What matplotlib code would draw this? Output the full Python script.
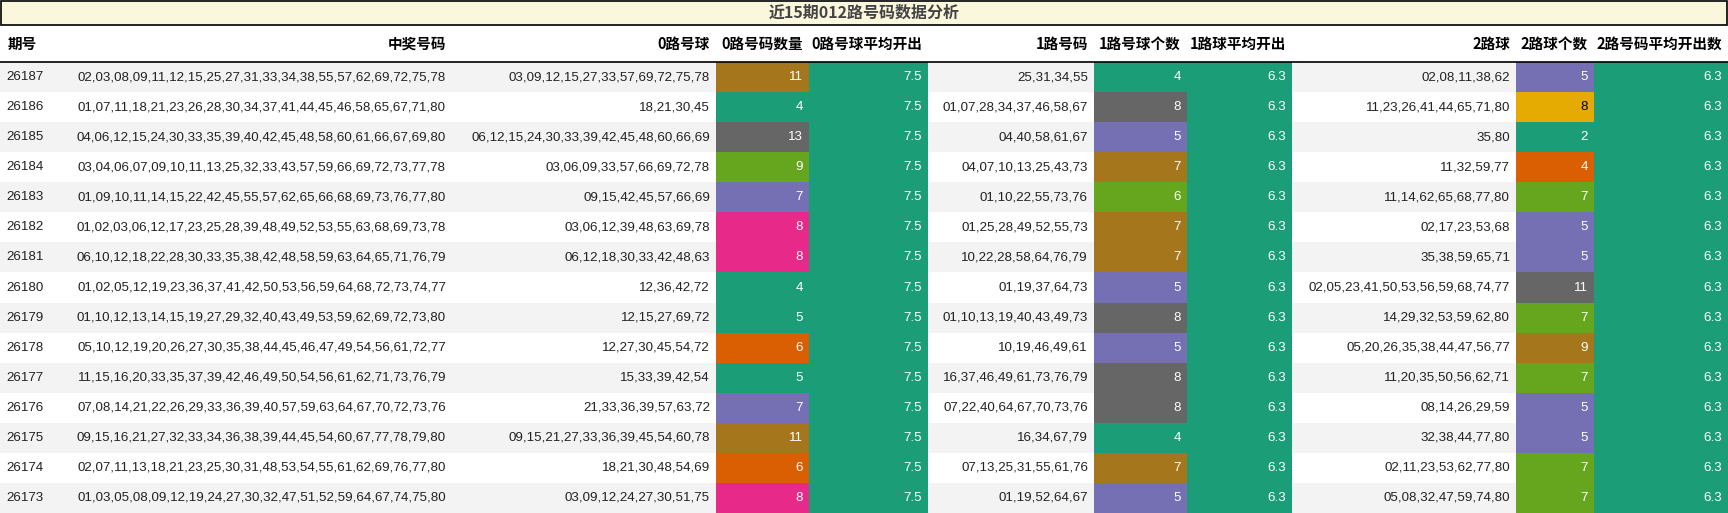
import matplotlib
matplotlib.use("Agg")
import matplotlib.pyplot as plt
from matplotlib.patches import Rectangle

title = "近15期012路号码数据分析"
headers = ["期号", "中奖号码", "0路号球", "0路号码数量", "0路号球平均开出", "1路号码", "1路号球个数", "1路球平均开出", "2路球", "2路球个数", "2路号码平均开出数"]
periods = ["26187","26186","26185","26184","26183","26182","26181","26180","26179","26178","26177","26176","26175","26174","26173"]
winning = [
"02,03,08,09,11,12,15,25,27,31,33,34,38,55,57,62,69,72,75,78",
"01,07,11,18,21,23,26,28,30,34,37,41,44,45,46,58,65,67,71,80",
"04,06,12,15,24,30,33,35,39,40,42,45,48,58,60,61,66,67,69,80",
"03,04,06,07,09,10,11,13,25,32,33,43,57,59,66,69,72,73,77,78",
"01,09,10,11,14,15,22,42,45,55,57,62,65,66,68,69,73,76,77,80",
"01,02,03,06,12,17,23,25,28,39,48,49,52,53,55,63,68,69,73,78",
"06,10,12,18,22,28,30,33,35,38,42,48,58,59,63,64,65,71,76,79",
"01,02,05,12,19,23,36,37,41,42,50,53,56,59,64,68,72,73,74,77",
"01,10,12,13,14,15,19,27,29,32,40,43,49,53,59,62,69,72,73,80",
"05,10,12,19,20,26,27,30,35,38,44,45,46,47,49,54,56,61,72,77",
"11,15,16,20,33,35,37,39,42,46,49,50,54,56,61,62,71,73,76,79",
"07,08,14,21,22,26,29,33,36,39,40,57,59,63,64,67,70,72,73,76",
"09,15,16,21,27,32,33,34,36,38,39,44,45,54,60,67,77,78,79,80",
"02,07,11,13,18,21,23,25,30,31,48,53,54,55,61,62,69,76,77,80",
"01,03,05,08,09,12,19,24,27,30,32,47,51,52,59,64,67,74,75,80"]
road0 = ["03,09,12,15,27,33,57,69,72,75,78","18,21,30,45","06,12,15,24,30,33,39,42,45,48,60,66,69","03,06,09,33,57,66,69,72,78","09,15,42,45,57,66,69","03,06,12,39,48,63,69,78","06,12,18,30,33,42,48,63","12,36,42,72","12,15,27,69,72","12,27,30,45,54,72","15,33,39,42,54","21,33,36,39,57,63,72","09,15,21,27,33,36,39,45,54,60,78","18,21,30,48,54,69","03,09,12,24,27,30,51,75"]
count0 = [11,4,13,9,7,8,8,4,5,6,5,7,11,6,8]
avg0 = [7.5]*15
road1 = ["25,31,34,55","01,07,28,34,37,46,58,67","04,40,58,61,67","04,07,10,13,25,43,73","01,10,22,55,73,76","01,25,28,49,52,55,73","10,22,28,58,64,76,79","01,19,37,64,73","01,10,13,19,40,43,49,73","10,19,46,49,61","16,37,46,49,61,73,76,79","07,22,40,64,67,70,73,76","16,34,67,79","07,13,25,31,55,61,76","01,19,52,64,67"]
count1 = [4,8,5,7,6,7,7,5,8,5,8,8,4,7,5]
avg1 = [6.3]*15
road2 = ["02,08,11,38,62","11,23,26,41,44,65,71,80","35,80","11,32,59,77","11,14,62,65,68,77,80","02,17,23,53,68","35,38,59,65,71","02,05,23,41,50,53,56,59,68,74,77","14,29,32,53,59,62,80","05,20,26,35,38,44,47,56,77","11,20,35,50,56,62,71","08,14,26,29,59","32,38,44,77,80","02,11,23,53,62,77,80","05,08,32,47,59,74,80"]
count2 = [5,8,2,4,7,5,5,11,7,9,7,5,5,7,7]
avg2 = [6.3]*15

G, BR, GR, OL, PU, PK, OR, YE = "#1b9e77", "#a6761d", "#666666", "#66a61e", "#7570b3", "#e7298a", "#d95f02", "#e6ab02"
cmap0 = {11: BR, 4: G, 13: GR, 9: OL, 7: PU, 8: PK, 6: OR, 5: G}
cmap1 = {4: G, 8: GR, 5: PU, 7: BR, 6: OL}
cmap2 = {5: PU, 8: YE, 2: G, 4: OR, 7: OL, 11: GR, 9: BR}

W, H = 1728, 513
edges = [0, 55, 452, 716, 809, 928, 1094, 1187, 1292, 1516, 1594, 1728]
title_h, head_bot = 26, 62
row_h = (H - head_bot) / 15

fig = plt.figure(figsize=(W/100, H/100), dpi=100)
ax = fig.add_axes([0, 0, 1, 1])
ax.set_xlim(0, W); ax.set_ylim(H, 0); ax.axis("off")

NUMF = ["Liberation Sans", "DejaVu Sans"]
CJK = ["Noto Sans CJK SC", "DejaVu Sans"]
FS = 9.6

ax.add_patch(Rectangle((1, 1), W-2, title_h-2, facecolor="#faf7dc", edgecolor="black", lw=1.2))
ax.text(W/2, title_h/2, title, ha="center", va="center", fontsize=11.5, fontweight="bold", color="#444444", family=CJK)
for j, h in enumerate(headers):
    if j == 0:
        ax.text(edges[0]+8, (title_h+head_bot)/2, h, ha="left", va="center", fontsize=10.5, fontweight="bold", family=CJK)
    else:
        ax.text(edges[j+1]-6, (title_h+head_bot)/2, h, ha="right", va="center", fontsize=10.5, fontweight="bold", family=CJK)
ax.plot([0, W], [head_bot, head_bot], color="black", lw=1.2)

columns = [periods, winning, road0, count0, avg0, road1, count1, avg1, road2, count2, avg2]
cmaps = {3: cmap0, 6: cmap1, 9: cmap2}
for i in range(15):
    y0 = head_bot + i*row_h
    yc = y0 + row_h/2
    bg = "#f3f3f3" if i % 2 == 0 else "white"
    for j, col in enumerate(columns):
        x0, x1 = edges[j], edges[j+1]
        val = col[i]
        fc, tc = bg, "#222222"
        if j in cmaps:
            fc = cmaps[j][val]; tc = "black" if fc == YE else "white"
        elif j in (4, 7, 10):
            fc, tc = G, "white"
        ax.add_patch(Rectangle((x0, y0), x1-x0, row_h, facecolor=fc, edgecolor="none"))
        s = f"{val:.1f}" if isinstance(val, float) else str(val)
        if j == 0:
            ax.text(x0+6, yc, s, ha="left", va="center", fontsize=FS, color=tc, family=NUMF)
        else:
            ax.text(x1-6, yc, s, ha="right", va="center", fontsize=FS, color=tc, family=NUMF)

fig.savefig("out.png", dpi=100)
